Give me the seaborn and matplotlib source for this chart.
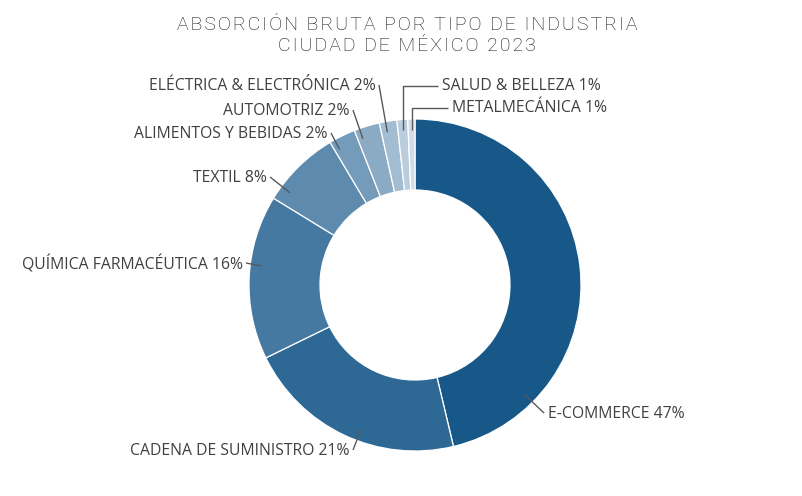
import numpy as np
import matplotlib
matplotlib.use("Agg")
import matplotlib.pyplot as plt
import seaborn as sns

# data
industries = ["E-COMMERCE", "CADENA DE SUMINISTRO", "QUÍMICA FARMACÉUTICA", "TEXTIL",
              "ALIMENTOS Y BEBIDAS", "AUTOMOTRIZ", "ELÉCTRICA & ELECTRÓNICA",
              "SALUD & BELLEZA", "METALMECÁNICA"]
shares = [46.3, 21.5, 16.0, 7.7, 2.6, 2.5, 1.7, 1.05, 0.7]
shown_pct = [47, 21, 16, 8, 2, 2, 2, 1, 1]
title_lines = ["ABSORCIÓN BRUTA POR TIPO DE INDUSTRIA", "CIUDAD DE MÉXICO 2023"]

# layout (pixel space of the 803x496 canvas, y measured from top)
W, H = 803, 496
CX, CY, R, RING = 415, 285, 166, 71
label_xy = [(548, 414), (350, 451), (243, 264), (267, 178), (328, 134),
            (350, 111), (376, 86), (442, 86), (452, 108)]
label_ha = ["left", "right", "right", "right", "right", "right", "right", "left", "left"]
elbow = [False] * 7 + [True, True]

sns.set_theme(style="white")
plt.rcParams["font.family"] = ["Open Sans", "DejaVu Sans"]

colors = sns.blend_palette(["#175889", "#d0dde8"], len(shares))

fig = plt.figure(figsize=(W / 100, H / 100), dpi=100)
ax = fig.add_axes([0, 0, 1, 1])
wedges, _ = ax.pie(shares, colors=colors, startangle=90, counterclock=False,
                   radius=R, center=(CX, H - CY),
                   wedgeprops=dict(width=RING, edgecolor="white", linewidth=0.9))
ax.set_xlim(0, W)
ax.set_ylim(0, H)
ax.set_aspect("equal")
ax.axis("off")

line_kw = dict(color="#595959", lw=1.0, solid_capstyle="butt")
r_anchor = 0.935 * R
for w, name, pct, (lx, ly), ha, el in zip(wedges, industries, shown_pct, label_xy, label_ha, elbow):
    th1, th2 = sorted((w.theta1, w.theta2))
    ly_d = H - ly
    gap = 4 if ha == "left" else -3
    end_x = lx - gap
    if el:
        ang = np.deg2rad((th1 + th2) / 2)
        ax_ = CX + r_anchor * np.cos(ang)
        ay_ = (H - CY) + r_anchor * np.sin(ang)
        ax.plot([ax_, ax_, end_x], [ay_, ly_d, ly_d], **line_kw)
    else:
        a = np.degrees(np.arctan2(ly_d - (H - CY), end_x - CX)) % 360
        m = min(1.0, (th2 - th1) / 4)
        # clamp label direction into the wedge span
        span = (th2 - th1)
        rel = (a - th1) % 360
        if rel > span:
            rel = m if (rel - span) > (360 - rel) else span - m
        rel = min(max(rel, m), span - m)
        ang = np.deg2rad(th1 + rel)
        ax_ = CX + r_anchor * np.cos(ang)
        ay_ = (H - CY) + r_anchor * np.sin(ang)
        ax.plot([ax_, end_x], [ay_, ly_d + 1], **line_kw)
    ax.text(lx, ly_d, f"{name} {pct}%", ha=ha, va="center", fontsize=11.3, color="#404040")

spaced = ["\u200a".join(list(t)) for t in title_lines]
for i, t in enumerate(spaced):
    fig.text(407 / W, 1 - (25 + 21 * i) / H, t, ha="center", va="center", fontsize=14,
             color="#111111", family=["Roboto", "DejaVu Sans"], fontweight="light")

fig.savefig("out.png", dpi=100)
